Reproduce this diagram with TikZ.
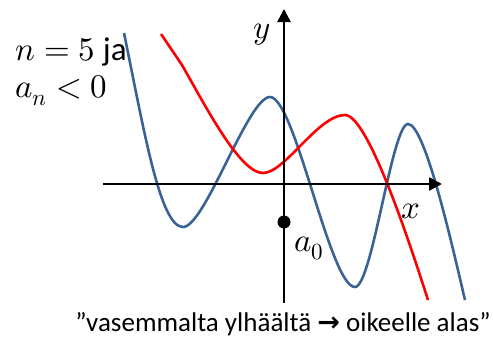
\documentclass[tikz,border=0pt]{standalone}
\usepackage{unicode-math}
\setmainfont{Carlito}
\newfontfamily\arrowfont{DejaVu Sans}
\usepackage{xcolor}
\usetikzlibrary{arrows.meta, positioning}
\definecolor{curveblue}{HTML}{3A6395}
\definecolor{curvered}{HTML}{FF0000}

\begin{document}
\begin{tikzpicture}[x=1pt, y=-1pt,
    axis/.style={line width=2.6pt, -{Triangle[length=13pt, width=13pt]}},
    bluecurve/.style={line width=2.6pt, draw=curveblue},
    redcurve/.style={line width=2.6pt, draw=curvered},
    mathlabel/.style={font=\fontsize{33}{37}\selectfont, inner sep=0pt},
    caption/.style={font=\fontsize{27}{32}\selectfont, inner sep=0pt},
    dot/.style={circle, fill=black, inner sep=0pt, minimum size=13pt},
]
    \useasboundingbox (0,0) rectangle (493,338);

    % curves
    \draw[bluecurve] (124,33) .. controls (144,130) and (160,227) .. (183,227)
        .. controls (205,227) and (248,97) .. (270,97)
        .. controls (295,97) and (330,287) .. (355,287)
        .. controls (372,287) and (392,124) .. (408,124)
        .. controls (425,124) and (452,245) .. (465,300);
    \draw[redcurve] (161,34) -- (182,65)
        .. controls (206,107) and (240,173) .. (263,173)
        .. controls (285,173) and (318,115) .. (345,115)
        .. controls (368,115) and (410,244) .. (428,300);

    % axes
    \coordinate (xstart) at (103,184);
    \coordinate (xend) at (442,184);
    \coordinate (ystart) at (284,303);
    \coordinate (yend) at (284,9);
    \draw[axis] (xstart) -- (xend);
    \draw[axis] (ystart) -- (yend);

    \node[mathlabel, anchor=base] (ylab) at (262,38) {$y$};
    \node[mathlabel, anchor=base] (xlab) at (411,218) {$x$};
    \node[dot] (a0dot) at (284,222) {};
    \node[mathlabel, anchor=base west] (a0lab) at (294,251) {$a_0$};

    \node[mathlabel, anchor=base west] (cond1) at (15,60) {$n = 5$ ja};
    \node[mathlabel, anchor=base west] (cond2) at ([yshift=-37pt]cond1.base west) {$a_n < 0$};
    \node[caption, anchor=base] (note) at (283,331) {”vasemmalta ylhäältä {\arrowfont\bfseries →} oikeelle alas”};
\end{tikzpicture}
\end{document}
